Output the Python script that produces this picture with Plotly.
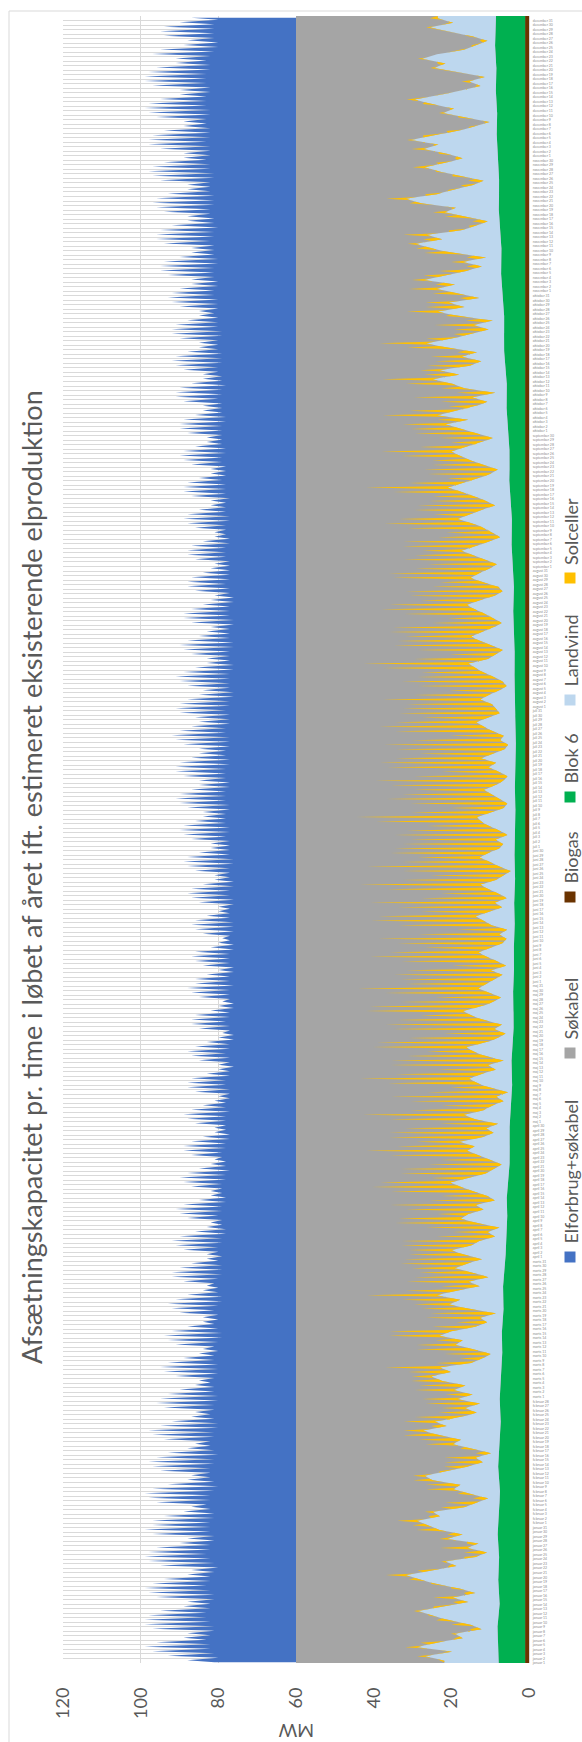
import plotly.graph_objects as go

# ---------------------------------------------------------------------------
# Data (MW). One entry per day of the year unless noted otherwise.
# ---------------------------------------------------------------------------
MONTHS = ["januar", "februar", "marts", "april", "maj", "juni",
          "juli", "august", "september", "oktober", "november", "december"]
MONTH_DAYS = [31, 28, 31, 30, 31, 30, 31, 31, 30, 31, 30, 31]
DAY_LABELS = [f"{m} {d}" for m, n in zip(MONTHS, MONTH_DAYS) for d in range(1, n + 1)]

SOKABEL_MW = 60.0
BIOGAS_MW = 1.0

# Blok 6, one value per 5-day block
BLOK6_MW = [
    6.8, 7.2, 6.5, 7.0, 6.6, 7.1,
    6.9, 6.4, 7.0, 6.7, 6.2, 6.6,
    6.3, 5.8, 6.1, 5.5, 5.8, 5.2,
    4.9, 4.5, 4.8, 4.2, 3.9, 4.1,
    3.7, 3.3, 3.6, 3.1, 2.9, 3.2,
    2.8, 3.0, 2.6, 2.9, 2.5, 2.8,
    2.6, 2.4, 2.7, 2.5, 2.3, 2.6,
    2.5, 2.8, 2.6, 2.9, 3.1, 2.8,
    3.2, 3.5, 3.3, 3.8, 4.1, 3.9,
    4.4, 4.8, 4.6, 5.2, 5.5, 5.3,
    5.8, 6.2, 6.0, 6.5, 6.8, 6.6,
    7.0, 7.4, 7.1, 7.6, 7.3, 7.8, 7.5,
]

LANDVIND_MW = [
    14, 19, 12, 21, 16, 9, 11, 4, 7, 13, 17, 21, 15, 8, 12, 6, 10, 16, 20, 24, 17, 11, 14, 6, 3, 8, 5, 13, 9, 15, 18,
    21, 15, 17, 9, 6, 3, 8, 12, 10, 17, 19, 13, 8, 4, 6, 2, 7, 12, 10, 16, 20, 14, 17, 10, 6, 9, 5, 11,
    7, 12, 9, 15, 18, 13, 16, 8, 5, 3, 7, 12, 10, 16, 13, 7, 4, 6, 2, 9, 14, 11, 17, 12, 6, 9, 4, 8, 13, 10, 6,
    11, 14, 9, 7, 3, 5, 2, 8, 12, 10, 6, 8, 3, 5, 9, 12, 15, 10, 6, 4, 2, 5, 8, 11, 9, 13, 7, 4, 6, 3,
    9, 12, 7, 5, 2, 4, 1, 6, 9, 11, 8, 4, 6, 2, 7, 10, 12, 7, 4, 2, 5, 3, 8, 11, 13, 8, 5, 3, 6, 9, 7,
    5, 3, 6, 2, 4, 7, 9, 6, 3, 2, 4, 2, 6, 8, 10, 6, 3, 5, 2, 4, 7, 9, 5, 3, 1, 4, 6, 9, 7, 4,
    3, 5, 2, 4, 7, 9, 10, 6, 3, 2, 4, 6, 8, 5, 3, 2, 4, 7, 5, 9, 6, 3, 2, 4, 3, 6, 8, 10, 7, 4, 5,
    6, 9, 7, 4, 2, 3, 5, 8, 10, 12, 7, 5, 3, 6, 9, 11, 8, 5, 3, 5, 7, 10, 12, 9, 5, 3, 4, 8, 11, 9, 6,
    4, 7, 10, 13, 9, 6, 3, 5, 7, 10, 14, 11, 8, 4, 6, 9, 12, 16, 12, 8, 5, 3, 7, 10, 13, 15, 11, 7, 4, 8,
    12, 16, 10, 18, 13, 8, 5, 9, 3, 11, 14, 19, 12, 17, 9, 6, 11, 7, 15, 20, 13, 9, 4, 8, 3, 12, 17, 10, 14, 6, 11,
    17, 12, 20, 14, 9, 5, 10, 4, 13, 18, 22, 15, 19, 10, 6, 3, 9, 14, 11, 20, 24, 16, 12, 7, 4, 10, 15, 19, 13, 9,
    13, 19, 15, 22, 17, 10, 6, 2, 8, 14, 11, 17, 21, 14, 9, 4, 7, 3, 10, 16, 13, 19, 15, 8, 5, 2, 6, 12, 17, 11, 15,
]

# Solceller, midday maximum of each day
SOLCELLER_MW = [
    1, 2, 1, 3, 4, 2, 1, 3, 5, 3, 1, 1, 2, 4, 5, 3, 2, 1, 3, 5, 4, 2, 1, 3, 6, 7, 3, 2, 4, 6, 4,
    5, 3, 2, 6, 8, 4, 3, 7, 9, 5, 3, 2, 6, 10, 8, 4, 3, 7, 11, 9, 5, 4, 8, 12, 10, 6, 14, 9,
    7, 10, 12, 8, 5, 11, 14, 9, 6, 12, 15, 10, 7, 13, 16, 11, 8, 14, 17, 12, 9, 15, 18, 13, 10, 16, 19, 14, 11, 17, 20,
    14, 11, 18, 20, 15, 9, 19, 21, 16, 8, 20, 22, 17, 12, 21, 23, 18, 10, 22, 24, 19, 13, 23, 26, 20, 11, 24, 27, 21, 15,
    22, 26, 19, 13, 24, 27, 21, 10, 23, 28, 22, 15, 25, 29, 20, 12, 24, 28, 23, 16, 26, 30, 22, 13, 25, 29, 24, 17, 27, 31, 21,
    24, 28, 22, 14, 25, 30, 23, 17, 27, 33, 21, 13, 24, 29, 25, 18, 27, 32, 22, 15, 26, 31, 24, 19, 28, 34, 23, 16, 25, 27,
    26, 22, 29, 24, 16, 27, 31, 21, 14, 25, 29, 23, 18, 27, 33, 24, 15, 26, 30, 22, 19, 28, 32, 23, 14, 25, 27, 21, 17, 26, 24,
    22, 25, 19, 13, 23, 26, 20, 16, 24, 27, 19, 12, 22, 25, 21, 17, 24, 26, 18, 12, 21, 24, 20, 15, 22, 25, 17, 11, 20, 23, 19,
    18, 21, 15, 10, 19, 22, 16, 12, 20, 23, 15, 9, 17, 20, 15, 11, 18, 21, 14, 8, 16, 19, 13, 10, 15, 18, 12, 8, 14, 16,
    13, 11, 8, 14, 12, 7, 12, 15, 10, 6, 12, 13, 9, 5, 11, 12, 8, 5, 10, 12, 7, 4, 9, 10, 7, 3, 8, 10, 6, 5, 7,
    7, 5, 3, 6, 7, 4, 3, 5, 7, 4, 2, 5, 6, 3, 2, 4, 5, 3, 1, 3, 5, 3, 1, 3, 4, 2, 1, 3, 3, 2,
    2, 3, 1, 1, 2, 3, 1, 1, 2, 1, 1, 2, 2, 1, 0, 1, 2, 1, 0, 1, 2, 1, 0, 1, 1, 2, 1, 0, 1, 1, 2,
]

# Elforbrug + søkabel: night minimum and daytime maximum of each day
FORBRUG_NAT_MW = [
    81, 80, 81, 82, 82, 83, 82, 81, 81, 82, 83, 83, 82, 82, 81, 81, 82, 83, 82, 82, 81, 80, 81, 82, 83, 82, 82, 81, 81, 82, 82,
    82, 81, 81, 82, 83, 82, 82, 81, 80, 81, 82, 82, 82, 81, 81, 80, 81, 82, 82, 81, 81, 80, 80, 81, 82, 81, 81, 80,
    80, 81, 81, 82, 81, 80, 80, 80, 81, 81, 80, 81, 80, 79, 79, 80, 81, 80, 80, 81, 80, 79, 79, 80, 80, 81, 80, 79, 79, 79, 80,
    79, 80, 80, 79, 79, 78, 78, 79, 79, 80, 79, 79, 78, 78, 79, 79, 79, 78, 78, 77, 78, 78, 79, 79, 78, 78, 77, 77, 78, 78,
    78, 78, 77, 78, 78, 77, 77, 77, 78, 78, 77, 77, 76, 77, 77, 78, 77, 77, 76, 76, 77, 77, 78, 77, 77, 76, 76, 77, 77, 77, 76,
    77, 77, 76, 76, 77, 77, 77, 76, 76, 77, 77, 76, 76, 76, 77, 77, 77, 76, 76, 77, 77, 76, 76, 77, 77, 77, 76, 76, 77, 77,
    77, 77, 78, 77, 77, 78, 78, 78, 77, 77, 78, 78, 78, 77, 77, 78, 78, 78, 77, 77, 78, 78, 77, 77, 77, 78, 78, 77, 77, 77, 78,
    77, 77, 76, 76, 77, 77, 77, 77, 76, 76, 77, 77, 77, 76, 76, 77, 77, 77, 76, 76, 77, 77, 77, 76, 76, 77, 77, 78, 77, 77, 77,
    77, 77, 78, 78, 78, 77, 77, 78, 78, 78, 77, 77, 78, 78, 78, 77, 78, 78, 78, 79, 78, 78, 78, 79, 79, 78, 78, 79, 79, 79,
    79, 79, 78, 78, 79, 79, 79, 80, 79, 79, 78, 79, 79, 80, 80, 79, 79, 79, 80, 80, 80, 79, 79, 80, 80, 80, 81, 80, 80, 80, 81,
    81, 80, 80, 81, 81, 81, 80, 80, 81, 81, 81, 82, 81, 81, 80, 81, 81, 82, 82, 81, 81, 81, 82, 82, 82, 81, 81, 82, 82, 83,
    82, 82, 82, 83, 82, 82, 82, 83, 83, 82, 82, 83, 83, 83, 82, 82, 83, 83, 83, 82, 82, 83, 82, 81, 80, 80, 81, 81, 81, 81, 80,
]
FORBRUG_DAG_MW = [
    88, 93, 97, 99, 96, 89, 88, 97, 99, 99, 98, 95, 89, 88, 96, 98, 99, 97, 94, 88, 87, 95, 98, 99, 98, 96, 90, 88, 97, 99, 97,
    97, 94, 89, 87, 96, 98, 99, 97, 93, 88, 87, 95, 97, 98, 96, 93, 88, 86, 94, 97, 98, 95, 92, 87, 86, 94, 96, 95,
    93, 90, 86, 85, 91, 94, 95, 93, 89, 85, 84, 91, 93, 94, 92, 88, 84, 84, 90, 92, 93, 91, 88, 84, 83, 89, 92, 92, 90, 87, 83,
    83, 89, 91, 92, 90, 86, 83, 82, 88, 90, 91, 89, 85, 82, 82, 87, 89, 90, 88, 85, 82, 81, 87, 89, 89, 87, 84, 81, 81, 86,
    88, 89, 87, 84, 81, 80, 86, 88, 88, 87, 83, 80, 80, 85, 87, 88, 86, 83, 80, 79, 85, 87, 87, 86, 82, 80, 79, 85, 87, 88, 86,
    86, 83, 80, 84, 86, 87, 86, 82, 80, 79, 84, 86, 87, 86, 83, 80, 80, 85, 87, 88, 87, 84, 81, 81, 86, 88, 89, 88, 85, 82,
    82, 87, 89, 90, 89, 86, 84, 84, 88, 90, 91, 90, 87, 85, 85, 89, 91, 91, 90, 87, 85, 85, 89, 91, 92, 90, 87, 85, 86, 90, 91,
    90, 88, 85, 84, 88, 90, 91, 89, 86, 83, 83, 87, 89, 90, 88, 85, 83, 82, 87, 89, 89, 87, 84, 82, 81, 86, 88, 88, 87, 84, 82,
    81, 86, 88, 88, 87, 84, 81, 81, 86, 88, 89, 88, 85, 82, 82, 87, 89, 89, 88, 85, 82, 82, 87, 89, 90, 89, 86, 83, 83, 88,
    90, 90, 89, 86, 84, 84, 89, 91, 91, 90, 87, 84, 84, 89, 91, 92, 91, 88, 85, 85, 90, 92, 92, 91, 88, 85, 85, 90, 92, 93, 92,
    90, 87, 87, 93, 95, 95, 94, 90, 87, 87, 94, 96, 96, 95, 92, 88, 88, 94, 96, 97, 96, 93, 88, 88, 95, 97, 98, 97, 94, 89,
    89, 95, 98, 98, 97, 94, 89, 89, 96, 98, 99, 98, 95, 90, 90, 97, 99, 99, 98, 96, 91, 91, 97, 95, 89, 88, 94, 95, 94, 90, 87,
]

# ---------------------------------------------------------------------------
# Positions along the year (unit: days since 1 January 00:00)
# ---------------------------------------------------------------------------
N_DAYS = len(DAY_LABELS)

forbrug_y, forbrug_x = [], []
for d, (lo, hi) in enumerate(zip(FORBRUG_NAT_MW, FORBRUG_DAG_MW)):
    forbrug_y += [d + 0.15, d + 0.6]
    forbrug_x += [lo, hi]

blok6_y = [5 * i + 2.5 for i in range(len(BLOK6_MW))]
landvind_y = [d + 0.5 for d in range(len(LANDVIND_MW))]

# solar output is zero during the night hours of each day
sol_y, sol_x = [], []
for d, peak in enumerate(SOLCELLER_MW):
    sol_y += [d + 0.14, d + 0.5, d + 0.86]
    sol_x += [0, peak, 0]

# ---------------------------------------------------------------------------
# Figure geometry (pixels)
# ---------------------------------------------------------------------------
W, H = 582, 1742
PL, PR, PT, PB = 63, 529, 16, 1663


def px(x):
    return (x - PL) / (PR - PL)


def py(y):
    return (PB - y) / (PB - PT)


FONT = "Lato, 'Open Sans', sans-serif"
TXT = "#595959"

C_FORBRUG = "#4472C4"
C_SOKABEL = "#A5A5A5"
C_BIOGAS = "#6A3300"
C_BLOK6 = "#00B050"
C_LANDVIND = "#BDD7EE"
C_SOL = "#FFC000"

fig = go.Figure()

fig.add_trace(go.Scatter(
    name="Elforbrug+søkabel", x=forbrug_x, y=forbrug_y, mode="lines",
    line=dict(width=0, color=C_FORBRUG), fill="tozerox", fillcolor=C_FORBRUG,
    hoverinfo="skip"))
fig.add_trace(go.Scatter(
    name="Søkabel", x=[SOKABEL_MW, SOKABEL_MW], y=[0, N_DAYS], mode="lines",
    line=dict(width=0, color=C_SOKABEL), fill="tozerox", fillcolor=C_SOKABEL,
    hoverinfo="skip"))

stack = [
    ("Biogas", [BIOGAS_MW, BIOGAS_MW], [0, N_DAYS], C_BIOGAS),
    ("Blok 6", BLOK6_MW, blok6_y, C_BLOK6),
    ("Landvind", LANDVIND_MW, landvind_y, C_LANDVIND),
    ("Solceller", sol_x, sol_y, C_SOL),
]
for i, (name, xs, ys, col) in enumerate(stack):
    kw = dict(stackgaps="interpolate") if i == 0 else {}
    fig.add_trace(go.Scatter(
        name=name, x=xs, y=ys, mode="lines", orientation="h", stackgroup="prod",
        line=dict(width=0, color=col), fillcolor=col, hoverinfo="skip", **kw))

# ---------------------------------------------------------------------------
# Axes
# ---------------------------------------------------------------------------
fig.update_xaxes(
    range=[120, 0], tickvals=list(range(0, 121, 20)), showgrid=True,
    gridcolor="#D9D9D9", gridwidth=1, zeroline=False, showline=False,
    tickangle=-90, ticks="", ticklabelstandoff=20,
    tickfont=dict(family=FONT, size=18, color=TXT))
fig.update_yaxes(
    range=[0, N_DAYS], side="right", tickmode="array",
    tickvals=list(range(N_DAYS)), ticktext=DAY_LABELS,
    showgrid=True, gridcolor="#D9D9D9", gridwidth=1, zeroline=False,
    showline=True, linecolor="#D9D9D9", linewidth=1, ticks="",
    ticklabelstandoff=2, tickfont=dict(family=FONT, size=3.5, color="#8C8C8C"))

# ---------------------------------------------------------------------------
# Texts, legend and chart-area frame
# ---------------------------------------------------------------------------
annotations = [
    dict(text="Afsætningskapacitet pr. time i løbet af året ift. estimeret eksisterende elproduktion",
         x=px(31), y=py(877), xref="paper", yref="paper", showarrow=False,
         textangle=-90, xanchor="center", yanchor="middle",
         font=dict(family=FONT, size=27, color=TXT)),
    dict(text="MW", x=px(296), y=py(1731), xref="paper", yref="paper",
         showarrow=False, textangle=180, xanchor="center", yanchor="middle",
         font=dict(family=FONT, size=18, color=TXT)),
]

legend_items = [
    ("Elforbrug+søkabel", C_FORBRUG, 1257),
    ("Søkabel", C_SOKABEL, 1053),
    ("Biogas", C_BIOGAS, 897),
    ("Blok 6", C_BLOK6, 797),
    ("Landvind", C_LANDVIND, 700),
    ("Solceller", C_SOL, 578),
]
shapes = [
    dict(type="rect", xref="paper", yref="paper", x0=px(9), x1=px(620),
         y0=py(1800), y1=py(11), line=dict(color="#D9D9D9", width=1),
         fillcolor="rgba(0,0,0,0)", layer="below"),
]
for name, col, cy in legend_items:
    shapes.append(dict(type="rect", xref="paper", yref="paper",
                       x0=px(564.5), x1=px(575.5), y0=py(cy + 5.5), y1=py(cy - 5.5),
                       line=dict(width=0), fillcolor=col))
    annotations.append(dict(text=name, x=px(570.5), y=py(cy - 11), xref="paper",
                            yref="paper", showarrow=False, textangle=-90,
                            xanchor="center", yanchor="bottom",
                            font=dict(family=FONT, size=18, color=TXT)))

fig.update_layout(
    width=W, height=H, showlegend=False,
    margin=dict(l=PL, r=W - PR, t=PT, b=H - PB, pad=0),
    paper_bgcolor="white", plot_bgcolor="white",
    annotations=annotations, shapes=shapes,
)

fig.write_html("out.html")
